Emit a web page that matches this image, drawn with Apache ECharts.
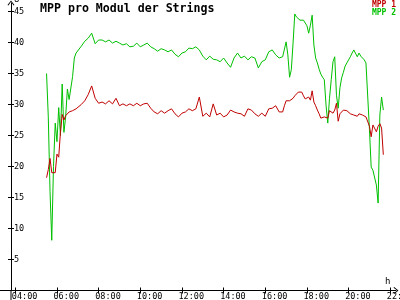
<!DOCTYPE html>
<html><head><meta charset="utf-8">
<script src="https://cdn.jsdelivr.net/npm/echarts@6/dist/echarts.min.js"></script>
<style>html,body{margin:0;padding:0;background:#fff}#c{width:400px;height:300px}</style>
</head><body><div id="c"></div>
<script>
const times = [
"05:30","05:35","05:40","05:45","05:50","05:55","06:00","06:05","06:10","06:15","06:20","06:25","06:30","06:35","06:40","06:45","06:50","06:55","07:00",
"07:10","07:20","07:30","07:40","07:50","08:00","08:10","08:20","08:30","08:40","08:50",
"09:00","09:10","09:20","09:30","09:40","09:50","10:00","10:10","10:20","10:30","10:40","10:50",
"11:00","11:10","11:20","11:30","11:40","11:50","12:00","12:10","12:20","12:30","12:40","12:50",
"13:00","13:10","13:20","13:30","13:40","13:50","14:00","14:10","14:20","14:30","14:40","14:50",
"15:00","15:10","15:20","15:30","15:40","15:50","16:00","16:10","16:20","16:30",
"16:35","16:40","16:45","16:50","16:55","17:00","17:05","17:10","17:15","17:20","17:25",
"17:30","17:35","17:40","17:45","17:50","17:55","18:00","18:05","18:10","18:15","18:20","18:25",
"18:30","18:35","18:40","18:45","18:50","18:55","19:00","19:05","19:10","19:15","19:20","19:25",
"19:30","19:35","19:40","19:45","19:50","19:55","20:00","20:05","20:10","20:15","20:20","20:25",
"20:30","20:35","20:40","20:45","20:50","20:55","21:00","21:05","21:10","21:15","21:20","21:25",
"21:30","21:35","21:40"
];
const mpp1 = [
18.2,19.5,21.3,19.0,18.8,19.0,22.0,21.5,25.5,28.4,27.5,28.2,28.5,28.8,28.8,29.0,29.2,29.3,29.6,
30.0,30.6,31.6,33.0,31.0,30.2,30.4,30.1,30.6,30.1,31.0,
29.8,30.1,29.8,30.1,29.8,30.2,29.8,30.1,30.2,29.4,28.8,28.5,
29.0,28.6,29.0,29.3,28.5,28.0,28.6,28.8,29.3,29.0,29.3,31.2,
28.1,28.6,28.0,30.1,28.3,28.6,28.0,28.3,29.1,28.8,28.6,28.5,
28.1,29.3,29.1,28.5,28.1,28.6,28.1,29.3,29.4,29.8,
29.6,28.8,28.5,28.8,29.8,30.6,30.7,30.6,30.7,31.0,31.4,
31.2,32.0,32.3,32.0,31.4,30.9,30.6,31.2,30.7,32.2,30.4,29.8,
29.1,28.5,27.8,27.7,28.0,27.7,27.8,29.0,28.8,28.6,29.1,30.2,
27.3,28.5,28.3,29.1,29.3,29.0,28.8,28.5,28.8,28.3,28.6,28.1,
28.5,28.6,28.3,28.6,28.0,27.7,26.5,24.8,26.7,26.9,25.6,26.5,
26.9,26.2,21.9
];
const mpp2 = [
35.0,28.0,16.0,8.1,20.0,27.0,24.0,29.5,25.0,33.3,25.5,28.0,32.5,30.8,30.5,34.5,37.5,38.3,38.6,
39.4,40.2,40.7,41.5,39.8,40.4,40.4,40.1,40.4,39.9,40.2,
39.9,39.6,39.8,39.3,39.4,39.9,39.3,39.6,39.9,39.3,39.0,38.6,
39.0,38.8,38.5,38.8,38.1,37.7,38.3,38.5,39.1,39.0,39.3,38.8,
37.8,37.2,37.8,37.3,37.2,36.9,37.5,36.7,36.0,37.5,38.3,37.5,
37.8,37.2,37.7,37.5,35.9,36.9,37.2,38.5,38.8,38.0,
37.7,37.5,37.3,37.7,38.0,40.1,38.0,34.4,35.6,39.9,44.6,
44.1,44.0,43.6,43.8,43.6,43.5,42.7,41.5,42.8,44.4,39.6,37.5,
36.7,35.7,34.9,34.4,34.0,29.9,27.0,31.0,34.0,36.9,37.7,31.5,
29.4,32.7,34.3,35.2,36.2,36.7,37.2,37.7,38.3,38.8,38.5,37.7,
38.3,37.8,37.5,37.2,36.7,36.4,26.0,19.9,19.4,19.1,17.0,14.1,
28.3,31.2,29.1
];
const seriesNames = ["MPP 1", "MPP 2"];
const xTickLabels = ["04:00","06:00","08:00","10:00","12:00","14:00","16:00","18:00","20:00","22:00"];
const yTickValues = [5,10,15,20,25,30,35,40,45];

const toMin = s => { const p = s.split(':'); return (+p[0]) * 60 + (+p[1]); };
const xTicks = xTickLabels.map(toMin);
const RED = '#c00000', GREEN = '#00c000';
const FONT = 'DejaVu Sans Mono';
const xMin = 227.6, xMax = 1336.5, yMin = 0, yMax = 46.37;
const arrow = 'path://M0,5 L4,0 L8,5 L7,5.7 L4,1.5 L1,5.7 Z';

const legendBase = {
  orient: 'vertical', right: 4, padding: 0, itemGap: 0,
  itemWidth: 0, itemHeight: 6, icon: 'rect', selectedMode: false,
  textStyle: {fontFamily: FONT, fontSize: 8, fontWeight: 'bold', padding: 0}
};

const chart = echarts.init(document.getElementById('c'), null, {renderer: 'canvas'});
chart.setOption({
  animation: false,
  backgroundColor: '#ffffff',
  title: {
    text: 'MPP pro Modul der Strings', left: 40, top: 2.5, padding: 0,
    textStyle: {fontFamily: FONT, fontSize: 11.6, fontWeight: 'bold', color: '#000'}
  },
  legend: [
    Object.assign({}, legendBase, {top: 1, data: [{name: seriesNames[0], textStyle: {color: RED}}]}),
    Object.assign({}, legendBase, {top: 9, data: [{name: seriesNames[1], textStyle: {color: GREEN}}]})
  ],
  grid: {left: 11, right: 4, top: 3, bottom: 9.5, containLabel: false, outerBoundsMode: 'none'},
  graphic: [
    {type: 'line', silent: true, shape: {x1: 0, y1: 290.5, x2: 11, y2: 290.5}, style: {stroke: '#000', lineWidth: 1}},
    {type: 'line', silent: true, shape: {x1: 11, y1: 290.5, x2: 11, y2: 300}, style: {stroke: '#000', lineWidth: 1}}
  ],
  xAxis: [{
    type: 'value', min: xMin, max: xMax, position: 'bottom',
    name: 'h', nameLocation: 'end', nameGap: -11,
    nameTextStyle: {fontFamily: FONT, fontSize: 9, color: '#000', align: 'left', verticalAlign: 'bottom', padding: [0, 0, 4, 0]},
    axisLine: {onZero: false, lineStyle: {color: '#000', width: 1}, symbol: ['none', arrow], symbolSize: [8, 5]},
    axisTick: {customValues: xTicks, length: 3, lineStyle: {color: '#000', width: 1}},
    axisLabel: {
      customValues: xTicks.map(v => v - 10),
      formatter: v => xTickLabels[Math.round((v + 10 - 240) / 120)],
      align: 'left', margin: 2, fontFamily: FONT, fontSize: 8.5, color: '#000'
    },
    splitLine: {show: false}
  }, {
    type: 'value', min: xMin, max: xMax, position: 'bottom',
    axisLine: {show: false},
    axisTick: {customValues: xTicks, inside: true, length: 3, lineStyle: {color: '#000', width: 1}},
    axisLabel: {show: false}, splitLine: {show: false}
  }],
  yAxis: [{
    type: 'value', min: yMin, max: yMax, position: 'left',
    name: 'U', nameLocation: 'end', nameGap: 8,
    nameTextStyle: {fontFamily: FONT, fontSize: 9, color: '#000', align: 'left', verticalAlign: 'top', padding: [0, 0, 0, 3]},
    axisLine: {onZero: false, lineStyle: {color: '#000', width: 1}, symbol: ['none', arrow], symbolSize: [8, 5]},
    axisTick: {customValues: yTickValues, length: 3, lineStyle: {color: '#000', width: 1}},
    axisLabel: {customValues: yTickValues, inside: true, margin: 3, fontFamily: FONT, fontSize: 8.5, color: '#000'},
    splitLine: {show: false}
  }, {
    type: 'value', min: yMin, max: yMax, position: 'left',
    axisLine: {show: false},
    axisTick: {customValues: yTickValues, inside: true, length: 3, lineStyle: {color: '#000', width: 1}},
    axisLabel: {show: false}, splitLine: {show: false}
  }],
  series: [
    {name: seriesNames[0], type: 'line', xAxisIndex: 0, yAxisIndex: 0, showSymbol: false, symbol: 'none',
     lineStyle: {color: RED, width: 1}, itemStyle: {color: RED}, z: 3,
     data: times.map((t, i) => [toMin(t), mpp1[i]])},
    {name: seriesNames[1], type: 'line', xAxisIndex: 0, yAxisIndex: 0, showSymbol: false, symbol: 'none',
     lineStyle: {color: GREEN, width: 1}, itemStyle: {color: GREEN}, z: 2,
     data: times.map((t, i) => [toMin(t), mpp2[i]])}
  ]
});
</script>
</body></html>
